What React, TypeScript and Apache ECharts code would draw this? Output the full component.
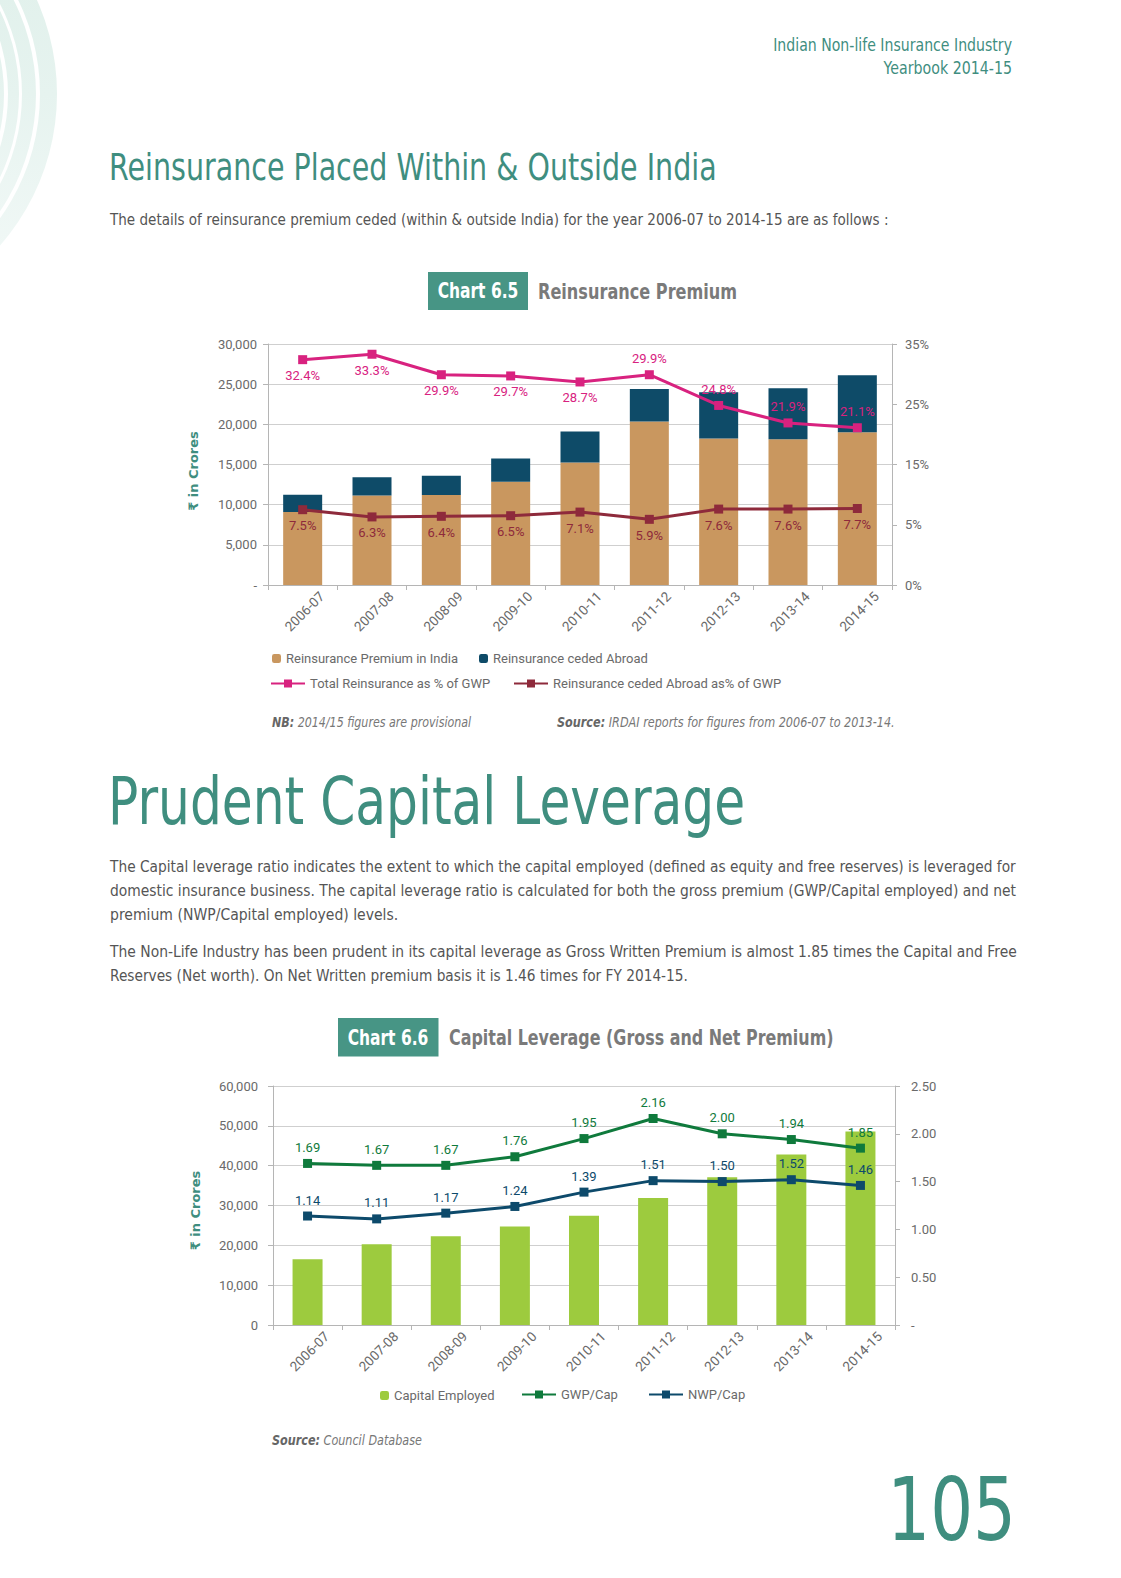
import React, { useEffect, useRef } from 'react';
import * as echarts from 'echarts';

const PAGE_FONT = "'DejaVu Sans', sans-serif";
const CHART_FONT = "Roboto, 'Liberation Sans', sans-serif";
const TEAL = '#3F8E7F';
const GRAY = '#6a6a6a';

// ---- Chart 6.5 data ----
const categories = ['2006-07', '2007-08', '2008-09', '2009-10', '2010-11', '2011-12', '2012-13', '2013-14', '2014-15'];
const reinsIndia = [9100, 11150, 11200, 12850, 15250, 20350, 18250, 18150, 19000];
const reinsAbroad = [2140, 2250, 2400, 2900, 3850, 4050, 5750, 6350, 7100];
const totalPct = [32.4, 33.3, 29.9, 29.7, 28.7, 29.9, 24.8, 21.9, 21.1];
const abroadPct = [7.5, 6.3, 6.4, 6.5, 7.1, 5.9, 7.6, 7.6, 7.7];
const leftTicks1 = { min: 0, max: 30000, interval: 5000 };
const rightTicks1 = { min: -5, max: 35, interval: 10 };

// ---- Chart 6.6 data ----
const capitalEmployed = [16500, 20300, 22300, 24750, 27400, 31900, 37100, 42800, 48600];
const gwpCap = [1.69, 1.67, 1.67, 1.76, 1.95, 2.16, 2.0, 1.94, 1.85];
const nwpCap = [1.14, 1.11, 1.17, 1.24, 1.39, 1.51, 1.5, 1.52, 1.46];
const leftTicks2 = { min: 0, max: 60000, interval: 10000 };
const rightTicks2 = { min: 0, max: 2.5, interval: 0.5 };

const C_TAN = '#C9975F';
const C_NAVY = '#0E4B68';
const C_MAGENTA = '#D8227F';
const C_DARKRED = '#8E2A3B';
const C_LIME = '#9DCB3E';
const C_GREEN = '#0F7A3C';
const C_NAVY2 = '#0D4A6B';

function txt(x: number, y: number, text: string, o: any = {}) {
  return {
    type: 'text',
    x,
    y,
    rotation: o.rotation || 0,
    scaleX: o.sx || 1,
    silent: true,
    style: {
      text,
      fontFamily: PAGE_FONT,
      fontSize: o.size || 16,
      fontWeight: o.weight || 'normal',
      fontStyle: o.style || 'normal',
      fill: o.fill || GRAY,
      align: o.align || 'left',
      verticalAlign: 'middle',
      rich: o.rich,
    },
  };
}

function buildOption() {
  const ringGrad = new echarts.graphic.LinearGradient(0, 0, 0, 1, [
    { offset: 0, color: '#DDEFE9' },
    { offset: 0.5, color: '#E6F3EF' },
    { offset: 1, color: '#F5FAF9' },
  ]);
  const bands = [
    [163, 177],
    [181, 192],
    [195, 209],
    [213, 230],
  ];
  const rings = bands.map(([r0, r]) => ({
    type: 'ring',
    silent: true,
    shape: { cx: -173, cy: 94, r0, r },
    style: { fill: ringGrad },
  }));

  const para = { size: 16.5, fill: '#555' };
  const nbRich = {
    b: { fontFamily: PAGE_FONT, fontSize: 14, fontWeight: 'bold', fontStyle: 'italic', fill: '#666' },
    i: { fontFamily: PAGE_FONT, fontSize: 14, fontStyle: 'italic', fill: '#777' },
  };

  const graphic: any[] = [
    ...rings,
    txt(1012, 46, 'Indian Non-life Insurance Industry', { size: 17, fill: TEAL, align: 'right', sx: 0.83 }),
    txt(1012, 68.5, 'Yearbook 2014-15', { size: 17, fill: TEAL, align: 'right', sx: 0.835 }),
    txt(109, 167, 'Reinsurance Placed Within & Outside India', { size: 37, fill: TEAL, sx: 0.771 }),
    txt(110, 219.5, 'The details of reinsurance premium ceded (within & outside India) for the year 2006-07 to 2014-15 are as follows :', { ...para, sx: 0.821 }),
    { type: 'rect', silent: true, shape: { x: 428, y: 272, width: 100, height: 38 }, style: { fill: '#479585' } },
    txt(478, 291, 'Chart 6.5', { size: 21, weight: 'bold', fill: '#fff', align: 'center', sx: 0.738 }),
    txt(538, 291, 'Reinsurance Premium', { size: 21.5, weight: 'bold', fill: '#7a7a7a', sx: 0.75 }),
    txt(193, 471, '₹ in Crores', { size: 13, weight: 'bold', fill: TEAL, align: 'center', rotation: Math.PI / 2 }),
    txt(272, 722.5, '{b|NB:}{i| 2014/15 figures are provisional}', { rich: nbRich, sx: 0.792 }),
    txt(557, 722.5, '{b|Source:}{i| IRDAI reports for figures from 2006-07 to 2013-14.}', { rich: nbRich, sx: 0.804 }),
    txt(108, 802, 'Prudent Capital Leverage', { size: 65, fill: TEAL, sx: 0.773 }),
    txt(110, 866.5, 'The Capital leverage ratio indicates the extent to which the capital employed (defined as equity and free reserves) is leveraged for', { ...para, sx: 0.835 }),
    txt(110, 890.5, 'domestic insurance business. The capital leverage ratio is calculated for both the gross premium (GWP/Capital employed) and net', { ...para, sx: 0.841 }),
    txt(110, 914.5, 'premium (NWP/Capital employed) levels.', { ...para, sx: 0.849 }),
    txt(110, 952, 'The Non-Life Industry has been prudent in its capital leverage as Gross Written Premium is almost 1.85 times the Capital and Free', { ...para, sx: 0.842 }),
    txt(110, 976, 'Reserves (Net worth). On Net Written premium basis it is 1.46 times for FY 2014-15.', { ...para, sx: 0.832 }),
    { type: 'rect', silent: true, shape: { x: 338, y: 1018, width: 100.5, height: 38.5 }, style: { fill: '#479585' } },
    txt(388, 1037.5, 'Chart 6.6', { size: 21, weight: 'bold', fill: '#fff', align: 'center', sx: 0.738 }),
    txt(449, 1037.5, 'Capital Leverage (Gross and Net Premium)', { size: 21.5, weight: 'bold', fill: '#7a7a7a', sx: 0.741 }),
    txt(195, 1210.5, '₹ in Crores', { size: 13, weight: 'bold', fill: TEAL, align: 'center', rotation: Math.PI / 2 }),
    txt(272, 1440, '{b|Source:}{i| Council Database}', { rich: nbRich, sx: 0.801 }),
    txt(1016, 1509, '105', { size: 88, fill: TEAL, align: 'right', sx: 0.766 }),
  ];

  const axisLabel = { fontFamily: CHART_FONT, fontSize: 13, color: GRAY };
  const xLabel = { fontFamily: CHART_FONT, fontSize: 13.5, color: GRAY, rotate: 45, margin: 28, padding: [0, -27, 0, 0] };
  const axisLine = { show: true, lineStyle: { color: '#b5b5b5', width: 1 } };
  const axisTick = { show: true, length: 5, lineStyle: { color: '#b5b5b5' } };
  const splitLine = { show: true, lineStyle: { color: '#cfcfcf', width: 1 } };

  const legendText = { fontFamily: CHART_FONT, fontSize: 13, color: GRAY };
  const mkLegend = (name: string, left: number, top: number, line: boolean) => ({
    show: true,
    left,
    top,
    padding: 0,
    data: [name],
    itemWidth: line ? 34 : 9,
    itemHeight: line ? 10 : 9,
    selectedMode: false,
    textStyle: legendText,
  });

  const lineLabel = (color: string) => ({
    show: true,
    fontFamily: CHART_FONT,
    fontSize: 13,
    color,
    distance: 5,
  });

  return {
    animation: false,
    backgroundColor: '#ffffff',
    graphic,
    grid: [
      { left: 268, top: 344, width: 624, height: 241 },
      { left: 273, top: 1086, width: 622, height: 239 },
    ],
    legend: [
      mkLegend('Reinsurance Premium in India', 272, 652, false),
      mkLegend('Reinsurance ceded Abroad', 479, 652, false),
      mkLegend('Total Reinsurance as % of GWP', 270, 677, true),
      mkLegend('Reinsurance ceded Abroad as% of GWP', 513, 677, true),
      mkLegend('Capital Employed', 380, 1389, false),
      mkLegend('GWP/Cap', 521, 1388, true),
      mkLegend('NWP/Cap', 648, 1388, true),
    ],
    xAxis: [
      { type: 'category', gridIndex: 0, data: categories, axisLine, axisTick, axisLabel: xLabel },
      { type: 'category', gridIndex: 1, data: categories, axisLine, axisTick, axisLabel: xLabel },
    ],
    yAxis: [
      {
        type: 'value',
        gridIndex: 0,
        ...leftTicks1,
        axisLine,
        axisTick,
        splitLine,
        axisLabel: { ...axisLabel, margin: 11, formatter: (v: number) => (v === 0 ? '-' : v.toLocaleString('en-US')) },
      },
      {
        type: 'value',
        gridIndex: 0,
        position: 'right',
        ...rightTicks1,
        axisLine,
        axisTick,
        splitLine: { show: false },
        axisLabel: { ...axisLabel, margin: 13, formatter: (v: number) => (v === -5 ? '0%' : v + '%') },
      },
      {
        type: 'value',
        gridIndex: 1,
        ...leftTicks2,
        axisLine,
        axisTick,
        splitLine,
        axisLabel: { ...axisLabel, margin: 15, formatter: (v: number) => v.toLocaleString('en-US') },
      },
      {
        type: 'value',
        gridIndex: 1,
        position: 'right',
        ...rightTicks2,
        axisLine,
        axisTick,
        splitLine: { show: false },
        axisLabel: { ...axisLabel, margin: 16, formatter: (v: number) => (v === 0 ? '-' : v.toFixed(2)) },
      },
    ],
    series: [
      {
        name: 'Reinsurance Premium in India',
        type: 'bar',
        xAxisIndex: 0,
        yAxisIndex: 0,
        stack: 'reins',
        barWidth: 39,
        itemStyle: { color: C_TAN },
        data: reinsIndia,
      },
      {
        name: 'Reinsurance ceded Abroad',
        type: 'bar',
        xAxisIndex: 0,
        yAxisIndex: 0,
        stack: 'reins',
        barWidth: 39,
        itemStyle: { color: C_NAVY },
        data: reinsAbroad,
      },
      {
        name: 'Total Reinsurance as % of GWP',
        type: 'line',
        xAxisIndex: 0,
        yAxisIndex: 1,
        symbol: 'rect',
        symbolSize: 9,
        lineStyle: { color: C_MAGENTA, width: 3 },
        itemStyle: { color: C_MAGENTA },
        label: { ...lineLabel(C_MAGENTA), formatter: (p: any) => p.value + '%' },
        data: totalPct.map((v, i) => ({ value: v, label: { position: i < 5 ? 'bottom' : 'top' } })),
      },
      {
        name: 'Reinsurance ceded Abroad as% of GWP',
        type: 'line',
        xAxisIndex: 0,
        yAxisIndex: 1,
        symbol: 'rect',
        symbolSize: 9,
        lineStyle: { color: C_DARKRED, width: 3 },
        itemStyle: { color: C_DARKRED },
        label: { ...lineLabel(C_DARKRED), position: 'bottom', formatter: (p: any) => p.value + '%' },
        data: abroadPct,
      },
      {
        name: 'Capital Employed',
        type: 'bar',
        xAxisIndex: 1,
        yAxisIndex: 2,
        barWidth: 30,
        itemStyle: { color: C_LIME },
        data: capitalEmployed,
      },
      {
        name: 'GWP/Cap',
        type: 'line',
        xAxisIndex: 1,
        yAxisIndex: 3,
        symbol: 'rect',
        symbolSize: 9,
        lineStyle: { color: C_GREEN, width: 3 },
        itemStyle: { color: C_GREEN },
        label: { ...lineLabel(C_GREEN), position: 'top', formatter: (p: any) => Number(p.value).toFixed(2) },
        data: gwpCap,
      },
      {
        name: 'NWP/Cap',
        type: 'line',
        xAxisIndex: 1,
        yAxisIndex: 3,
        symbol: 'rect',
        symbolSize: 9,
        lineStyle: { color: C_NAVY2, width: 3 },
        itemStyle: { color: C_NAVY2 },
        label: { ...lineLabel(C_NAVY2), position: 'top', formatter: (p: any) => Number(p.value).toFixed(2) },
        data: nwpCap,
      },
    ],
  };
}

export default function App() {
  const ref = useRef<HTMLDivElement>(null);
  useEffect(() => {
    if (!ref.current) return;
    const chart = echarts.init(ref.current, null, { renderer: 'svg' });
    chart.setOption(buildOption() as any);
    return () => chart.dispose();
  }, []);
  return (
    <div
      ref={ref}
      style={{ position: 'absolute', left: 0, top: 0, width: 1121, height: 1578, background: '#ffffff' }}
    />
  );
}
